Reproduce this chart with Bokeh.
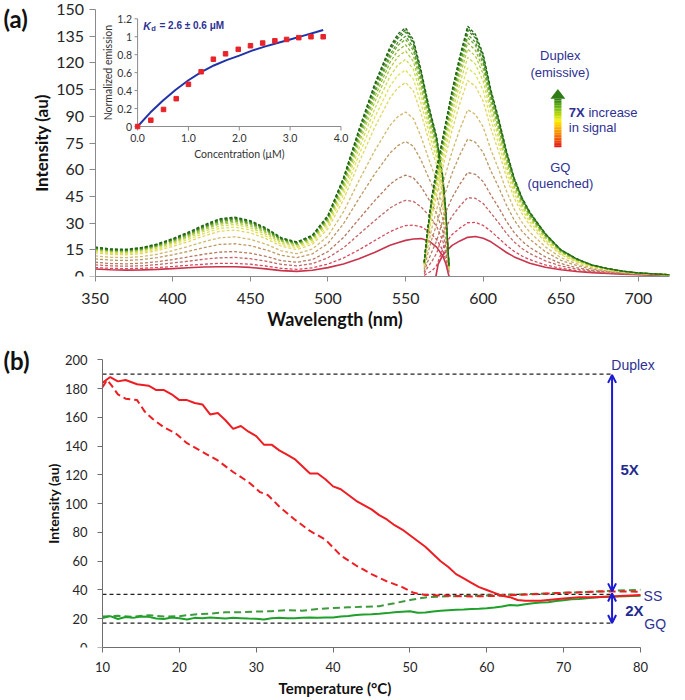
import math
from bokeh.plotting import figure
from bokeh.models import (Range1d, FixedTicker, Label, LabelSet, ColumnDataSource,
                          Arrow, OpenHead)
from bokeh.layouts import column
from bokeh.embed import file_html
from bokeh.resources import INLINE
from bokeh.core.properties import value

# ------------------------------------------------------------------
# Panel (a): excitation spectra (350-578 nm) and emission spectra
# ------------------------------------------------------------------
EX_WL = [350, 360, 370, 380, 390, 400, 410, 420, 430, 440, 450, 460, 470, 480, 490,
         500, 510, 520, 530, 540, 545, 550, 555, 560, 565, 570, 574, 576, 578]
ex_solid = [4.2, 3.8, 3.6, 3.7, 4.0, 4.4, 4.9, 5.3, 5.5, 5.5, 5.1, 4.3, 3.3, 2.9, 3.5,
            5.0, 7.0, 10.0, 13.5, 17.5, 19.0, 20.3, 21.1, 21.3, 20.0, 16.5, 11.5, 7.0, 0.0]
ex_d01 = [5.0, 4.6, 4.4, 4.6, 5.0, 5.6, 6.3, 6.9, 7.4, 7.4, 6.9, 5.9, 4.6, 4.0, 4.9, 7.0, 10.4, 15.0, 20.1, 25.2, 27.1, 28.6, 28.9, 27.9, 25.3, 20.8, 14.6, 9.0, 0.4]
ex_d02 = [6.5, 6.0, 5.8, 6.0, 6.7, 7.6, 8.6, 9.7, 10.5, 10.7, 10.0, 8.6, 6.8, 6.0, 7.2, 10.5, 16.1, 23.7, 31.3, 38.5, 41.0, 42.8, 42.2, 39.1, 34.3, 28.2, 20.0, 12.5, 1.1]
ex_d03 = [8.0, 7.3, 7.1, 7.5, 8.3, 9.5, 11.0, 12.5, 13.7, 14.0, 13.1, 11.3, 8.9, 8.0, 9.5, 14.0, 21.9, 32.3, 42.5, 51.8, 55.0, 56.9, 55.5, 50.4, 43.3, 35.6, 25.3, 16.0, 1.9]
ex_d04 = [9.9, 9.2, 9.0, 9.5, 10.6, 12.2, 14.1, 16.2, 18.0, 18.4, 17.3, 15.0, 11.9, 10.6, 12.7, 18.6, 29.6, 43.8, 57.4, 69.4, 73.5, 75.9, 73.2, 65.3, 55.3, 45.4, 32.4, 20.6, 2.8]
ex_d05 = [11.6, 10.8, 10.6, 11.2, 12.5, 14.5, 16.9, 19.5, 21.7, 22.3, 20.9, 18.2, 14.4, 12.8, 15.4, 22.7, 36.3, 53.9, 70.5, 84.9, 89.8, 92.4, 88.8, 78.5, 65.8, 54.0, 38.7, 24.7, 3.7]
ex_d06 = [13.3, 12.4, 12.2, 12.9, 14.5, 16.9, 19.6, 22.7, 25.4, 26.1, 24.5, 21.3, 17.0, 15.1, 18.1, 26.8, 43.0, 64.0, 83.6, 100.4, 106.0, 109.0, 104.3, 91.6, 76.3, 62.6, 44.9, 28.8, 4.5]
ex_d07 = [14.0, 13.0, 12.8, 13.7, 15.3, 17.9, 20.8, 24.1, 27.0, 27.8, 26.1, 22.7, 18.0, 16.1, 19.3, 28.5, 45.9, 68.3, 89.2, 107.0, 113.0, 116.0, 110.9, 97.2, 80.8, 66.3, 47.5, 30.5, 4.9]
ex_d08 = [14.6, 13.6, 13.4, 14.3, 16.0, 18.7, 21.8, 25.3, 28.3, 29.2, 27.4, 23.8, 19.0, 16.9, 20.3, 29.9, 48.3, 71.9, 93.9, 112.5, 118.8, 122.0, 116.5, 101.9, 84.5, 69.4, 49.8, 31.9, 5.2]
ex_d09 = [15.1, 14.1, 13.9, 14.8, 16.6, 19.3, 22.5, 26.2, 29.4, 30.3, 28.4, 24.7, 19.7, 17.6, 21.1, 31.1, 50.2, 74.8, 97.7, 117.0, 123.4, 126.7, 120.9, 105.6, 87.5, 71.9, 51.6, 33.1, 5.4]
ex_d10 = [15.5, 14.4, 14.2, 15.1, 17.0, 19.8, 23.1, 26.9, 30.1, 31.1, 29.2, 25.4, 20.2, 18.1, 21.6, 32.0, 51.6, 77.0, 100.5, 120.3, 126.9, 130.2, 124.2, 108.4, 89.8, 73.7, 52.9, 34.0, 5.6]
ex_d11 = [15.8, 14.7, 14.5, 15.4, 17.4, 20.3, 23.6, 27.5, 30.8, 31.8, 29.8, 26.0, 20.7, 18.5, 22.1, 32.7, 52.8, 78.8, 102.8, 123.0, 129.8, 133.2, 127.0, 110.8, 91.6, 75.2, 54.0, 34.7, 5.7]
ex_d12 = [15.9, 14.9, 14.7, 15.6, 17.6, 20.5, 23.9, 27.8, 31.2, 32.2, 30.2, 26.3, 21.0, 18.7, 22.4, 33.1, 53.6, 79.8, 104.2, 124.7, 131.5, 135.0, 128.7, 112.2, 92.8, 76.2, 54.7, 35.1, 5.8]
ex_d13 = [16.2, 15.1, 14.9, 15.9, 17.9, 20.8, 24.3, 28.3, 31.7, 32.7, 30.7, 26.8, 21.3, 19.0, 22.8, 33.7, 54.5, 81.3, 106.1, 126.9, 133.8, 137.3, 130.9, 114.1, 94.3, 77.4, 55.6, 35.7, 5.9]
ex_d14 = [16.3, 15.2, 15.0, 16.0, 18.0, 21.0, 24.5, 28.5, 32.0, 33.0, 31.0, 27.0, 21.5, 19.2, 23.0, 34.0, 55.0, 82.0, 107.0, 128.0, 135.0, 138.5, 132.0, 115.0, 95.0, 78.0, 56.0, 36.0, 6.0]
ex_d15 = [16.6, 15.5, 15.3, 16.3, 18.3, 21.3, 24.9, 28.9, 32.4, 33.4, 31.4, 27.3, 21.8, 19.4, 23.3, 34.4, 55.5, 82.7, 108.0, 129.1, 136.2, 139.7, 133.1, 116.0, 95.8, 78.6, 56.4, 36.3, 6.0]

EM_WL = [562, 564, 567, 570, 575, 580, 585, 590, 595, 600, 605, 610, 615, 620, 625,
         630, 640, 650, 660, 670, 680, 690, 700, 710, 720]
em_solid_wl = [569.5, 571, 574, 577, 580, 585, 590, 595, 600, 605, 610, 615, 620, 630,
               640, 650, 660, 670, 680, 690, 700, 710, 720]
em_solid = [0.0, 7.0, 12.0, 15.0, 17.5, 20.0, 22.0, 22.5, 21.5, 19.5, 16.5, 13.5, 11.0, 7.5,
            5.2, 3.8, 2.8, 2.2, 1.7, 1.3, 1.0, 0.8, 0.6]
em_d01 = [0.6, 1.8, 3.2, 6.1, 17.8, 23.6, 27.2, 30.2, 30.4, 28.7, 25.4, 21.5, 17.5, 14.1, 11.5, 9.5, 6.5, 4.6, 3.3, 2.5, 1.9, 1.4, 1.1, 0.9, 0.6]
em_d02 = [1.5, 4.8, 8.6, 13.0, 26.1, 33.9, 39.6, 44.3, 43.9, 41.0, 35.6, 30.1, 24.2, 19.4, 15.7, 12.9, 8.8, 5.9, 4.2, 3.0, 2.2, 1.6, 1.2, 0.9, 0.7]
em_d03 = [2.5, 7.8, 14.0, 20.0, 34.4, 44.3, 51.9, 58.4, 57.4, 53.3, 45.7, 38.7, 31.0, 24.6, 19.9, 16.3, 11.0, 7.3, 5.0, 3.5, 2.6, 1.8, 1.3, 1.0, 0.7]
em_d04 = [3.8, 11.8, 21.2, 29.3, 45.4, 58.2, 68.4, 77.2, 75.4, 69.7, 59.2, 50.1, 40.1, 31.7, 25.5, 20.9, 14.0, 9.1, 6.2, 4.2, 3.0, 2.1, 1.5, 1.1, 0.8]
em_d05 = [4.9, 15.3, 27.5, 37.4, 55.1, 70.3, 82.8, 93.7, 91.1, 84.0, 71.1, 60.1, 48.0, 37.8, 30.4, 24.9, 16.7, 10.6, 7.2, 4.8, 3.4, 2.3, 1.6, 1.2, 0.8]
em_d06 = [6.0, 18.8, 33.8, 45.5, 64.8, 82.4, 97.3, 110.1, 106.9, 98.4, 82.9, 70.1, 55.9, 44.0, 35.3, 28.9, 19.3, 12.2, 8.2, 5.4, 3.8, 2.6, 1.8, 1.3, 0.9]
em_d07 = [6.5, 20.3, 36.5, 49.0, 68.9, 87.6, 103.4, 117.2, 113.6, 104.5, 88.0, 74.4, 59.3, 46.6, 37.4, 30.6, 20.4, 12.9, 8.6, 5.7, 4.0, 2.7, 1.8, 1.4, 0.9]
em_d08 = [6.9, 21.5, 38.7, 51.9, 72.3, 91.9, 108.6, 123.1, 119.3, 109.7, 92.2, 78.0, 62.1, 48.8, 39.1, 32.0, 21.4, 13.4, 9.0, 5.9, 4.1, 2.8, 1.9, 1.4, 0.9]
em_d09 = [7.2, 22.5, 40.5, 54.2, 75.1, 95.4, 112.7, 127.8, 123.8, 113.8, 95.6, 80.9, 64.4, 50.6, 40.5, 33.2, 22.1, 13.9, 9.3, 6.1, 4.2, 2.8, 1.9, 1.4, 1.0]
em_d10 = [7.4, 23.3, 41.9, 55.9, 77.2, 98.0, 115.8, 131.3, 127.1, 116.8, 98.1, 83.0, 66.1, 51.9, 41.6, 34.0, 22.7, 14.2, 9.5, 6.2, 4.3, 2.9, 1.9, 1.5, 1.0]
em_d11 = [7.6, 23.9, 43.0, 57.4, 78.9, 100.1, 118.4, 134.2, 129.9, 119.4, 100.2, 84.8, 67.5, 53.0, 42.4, 34.7, 23.2, 14.5, 9.7, 6.3, 4.4, 2.9, 2.0, 1.5, 1.0]
em_d12 = [7.8, 24.3, 43.7, 58.3, 79.9, 101.4, 119.9, 136.0, 131.6, 120.9, 101.5, 85.9, 68.3, 53.7, 43.0, 35.2, 23.4, 14.7, 9.8, 6.4, 4.4, 3.0, 2.0, 1.5, 1.0]
em_d13 = [7.9, 24.8, 44.6, 59.4, 81.3, 103.1, 122.0, 138.3, 133.9, 123.0, 103.2, 87.3, 69.4, 54.6, 43.7, 35.7, 23.8, 14.9, 9.9, 6.5, 4.5, 3.0, 2.0, 1.5, 1.0]
em_d14 = [8.0, 25.0, 45.0, 60.0, 82.0, 104.0, 123.0, 139.5, 135.0, 124.0, 104.0, 88.0, 70.0, 55.0, 44.0, 36.0, 24.0, 15.0, 10.0, 6.5, 4.5, 3.0, 2.0, 1.5, 1.0]
em_d15 = [8.1, 25.3, 45.5, 60.6, 82.7, 104.9, 124.0, 140.6, 136.1, 125.0, 104.8, 88.7, 70.6, 55.4, 44.4, 36.3, 24.2, 15.1, 10.1, 6.5, 4.5, 3.0, 2.0, 1.5, 1.0]

WL_TICKS = [350, 400, 450, 500, 550, 600, 650, 700]
INT_TICKS_A = [0, 15, 30, 45, 60, 75, 90, 105, 120, 135, 150]

# inset (binding curve)
conc = [0.0, 0.26, 0.51, 0.76, 1.0, 1.25, 1.49, 1.73, 1.98, 2.22, 2.46, 2.70, 2.93, 3.17, 3.41, 3.65]
norm_emission = [0.0, 0.07, 0.19, 0.31, 0.47, 0.61, 0.75, 0.81, 0.86, 0.90, 0.93, 0.955, 0.97, 0.99, 1.0, 1.0]
fit_conc = [0.0, 0.25, 0.5, 0.75, 1.0, 1.25, 1.5, 1.75, 2.0, 2.25, 2.5, 2.75, 3.0, 3.25, 3.5, 3.65]
fit_norm = [0.0, 0.155, 0.29, 0.41, 0.515, 0.605, 0.68, 0.74, 0.79, 0.845, 0.89, 0.93, 0.97, 1.01, 1.05, 1.075]
INSET_XTICKS = [0, 1, 2, 3, 4]
INSET_XTICK_LABELS = ["0.0", "1.0", "2.0", "3.0", "4.0"]
INSET_YTICKS = [0, 0.2, 0.4, 0.6, 0.8, 1.0, 1.2]
INSET_YTICK_LABELS = ["0", "0.2", "0.4", "0.6", "0.8", "1", "1.2"]

# ------------------------------------------------------------------
# Panel (b): melting curves
# ------------------------------------------------------------------
red_solid_T = [10, 11, 12, 13, 14.5, 16, 17, 18, 19, 20, 21, 22, 23, 24, 25, 26, 27, 28, 29, 30,
               31, 32, 33, 34, 35, 36, 37, 38, 39, 40, 41, 42, 43, 44, 45, 46, 47, 48, 49, 50,
               51, 52, 53, 54, 55, 56, 57, 58, 59, 60, 61, 62, 63, 64, 65, 66, 67, 68, 70, 72,
               74, 76, 78, 80]
red_solid_I = [184, 188, 185, 186, 183, 182, 179, 179, 176, 172, 172, 170, 169, 162, 163, 158, 152, 154, 150, 147,
               141, 141, 137, 134, 131, 126, 121, 121, 117, 112, 110, 106, 102, 99, 96, 92, 89, 85, 82, 78,
               74, 70, 65, 60, 56, 51, 48, 45, 42, 40, 38, 36, 35, 33, 32.5, 32.5, 32.5, 33, 34, 35,
               35, 35.5, 36, 36.5]
red_dash_T = [10, 10.6, 11.2, 12, 13, 14.5, 15.5, 16.5, 18, 19.5, 21, 23, 25, 27, 29, 30.5, 31.5, 33,
              35, 37, 39, 41, 43, 45, 47, 49, 50.5, 52, 55, 58, 62, 66, 70, 75, 80]
red_dash_I = [181, 186, 182, 176, 173, 172, 164, 159, 153, 149, 142, 136, 130, 122, 115, 108, 106, 98,
              89, 81, 75, 64, 57, 51, 46, 42, 38, 36.5, 36, 35.5, 36, 37, 38, 39, 38.8]
green_solid_T = [10, 11, 12, 13, 14, 15, 16, 17, 18, 19, 20, 21, 22, 23, 24, 25, 26, 27, 28, 29,
                 30, 31, 32, 33, 34, 35, 36, 37, 38, 39, 40, 41, 42, 43, 44, 45, 46, 47, 48, 49,
                 50, 51, 52, 53, 54, 55, 56, 57, 58, 59, 60, 61, 62, 63, 64, 65, 66, 67, 68, 69,
                 70, 71, 72, 73, 74, 75, 76, 77, 78, 79, 80]
green_solid_I = [20.5, 21.8, 19.8, 21.2, 20.6, 21.5, 21.3, 20.1, 19.8, 20.9, 20.3, 19.4, 20.6, 20.3, 20.8,
                 20.5, 20.1, 20.6, 20.4, 20.1, 20.0, 19.5, 20.4, 20.6, 20.4, 20.3, 20.6, 20.8, 20.7, 20.9,
                 20.8, 21.6, 21.9, 22.6, 23.0, 23.2, 23.5, 23.9, 24.5, 24.9, 25.2, 24.2, 24.3, 25.0, 25.5,
                 25.9, 26.2, 26.4, 26.7, 26.9, 27.3, 27.8, 28.5, 29.5, 29.2, 30.0, 30.8, 31.3, 31.5, 32.3,
                 32.9, 33.5, 33.8, 34.2, 34.8, 35.1, 35.3, 35.4, 35.6, 35.8, 35.9]
green_dash_T = [10, 12, 14, 16, 18, 20, 22, 24, 26, 28, 30, 32, 34, 36, 38, 40, 42, 44, 46, 48,
                50, 52, 54, 56, 58, 60, 62, 64, 66, 68, 70, 72, 74, 76, 78, 80]
green_dash_I = [21.5, 22.0, 21.3, 22.5, 21.5, 21.8, 23.0, 23.5, 24.5, 24.5, 25.0, 25.2, 26.0, 25.6, 26.8,
                27.4, 27.9, 28.3, 28.7, 30.8, 33.0, 34.8, 35.4, 35.7, 35.9, 36.2, 36.5, 36.9, 37.2, 37.6,
                38.0, 38.4, 38.9, 39.4, 39.8, 40.1]
ref_levels = [190, 37, 17]          # Duplex, SS, GQ reference intensities
ref_end_T = 76.3
T_TICKS = [10, 20, 30, 40, 50, 60, 70, 80]
INT_TICKS_B = [0, 20, 40, 60, 80, 100, 120, 140, 160, 180, 200]

# ------------------------------------------------------------------
FONT = "Lato"
ANN = "Liberation Sans"
NAVY = "#2E3192"
DASH_COLORS = ["#D6485A", "#C46464", "#B67A5E", "#BE9862", "#D2B96A", "#E2D663", "#E2E257",
               "#CCDB4A", "#AECB40", "#8FBB38", "#70A930", "#549829", "#3E8722", "#2D761B", "#216615"]


def style(p, axis_color, tick_size, title_size):
    p.grid.visible = False
    p.outline_line_color = None
    p.background_fill_color = "white"
    p.border_fill_color = "white"
    for ax in (p.xaxis[0], p.yaxis[0]):
        ax.axis_line_color = axis_color
        ax.major_tick_line_color = axis_color
        ax.minor_tick_line_color = None
        ax.major_tick_in = 0
        ax.major_label_text_font = FONT
        ax.major_label_text_font_size = tick_size
        ax.major_label_text_color = "#262626"
        ax.axis_label_text_font = FONT
        ax.axis_label_text_font_style = "bold"
        ax.axis_label_text_font_size = title_size
        ax.axis_label_text_color = "#111111"


# ---------------- panel (a) ----------------
# frame spans from the canvas' left/top edge; the y axis is pinned at 350 nm
A_PXNM, A_PXI = 1.56, 1.78
a_x0 = 350 - 95 / A_PXNM
a_y1 = 276 / A_PXI
pa = figure(width=685, height=336, x_range=Range1d(a_x0, 720), y_range=Range1d(0, a_y1),
            output_backend="svg", toolbar_location=None,
            min_border_left=0, min_border_right=13, min_border_top=0, min_border_bottom=60)
style(pa, "#8a8a8a", "16px", "17px")
pa.xaxis.ticker = FixedTicker(ticks=WL_TICKS)
pa.yaxis.ticker = FixedTicker(ticks=INT_TICKS_A)
pa.xaxis.bounds = (350, 720)
pa.yaxis.bounds = (0, 150)
pa.yaxis.fixed_location = 350
pa.xaxis.axis_label = "Wavelength (nm)"
pa.yaxis.axis_label = "Intensity (au)"
pa.xaxis.axis_label_text_font_size = "18px"
pa.xaxis.major_tick_out = 5
pa.xaxis.major_label_standoff = 11
pa.xaxis.axis_label_standoff = 1
pa.yaxis.major_tick_out = 6
pa.yaxis.major_label_standoff = 5
pa.yaxis.axis_label_standoff = 2

pa.line(EX_WL, ex_solid, line_color="#C8344C", line_width=1.6)
pa.line(em_solid_wl, em_solid, line_color="#C8344C", line_width=1.6)
EX_DASHED = [ex_d01, ex_d02, ex_d03, ex_d04, ex_d05, ex_d06, ex_d07, ex_d08, ex_d09, ex_d10,
             ex_d11, ex_d12, ex_d13, ex_d14, ex_d15]
EM_DASHED = [em_d01, em_d02, em_d03, em_d04, em_d05, em_d06, em_d07, em_d08, em_d09, em_d10,
             em_d11, em_d12, em_d13, em_d14, em_d15]
for ys, c in zip(EX_DASHED, DASH_COLORS):
    pa.line(EX_WL, ys, line_color=c, line_width=1.3, line_dash="3 2")
for ys, c in zip(EM_DASHED, DASH_COLORS):
    pa.line(EM_WL, ys, line_color=c, line_width=1.3, line_dash="3 2")

# gradient arrow (red -> yellow -> green)
stops = [(0.0, (226, 20, 24)), (0.3, (250, 140, 0)), (0.55, (250, 240, 0)),
         (0.8, (120, 190, 20)), (1.0, (45, 125, 20))]


def grad(t):
    for (t0, c0), (t1, c1) in zip(stops[:-1], stops[1:]):
        if t <= t1:
            u = (t - t0) / (t1 - t0)
            return "#%02x%02x%02x" % tuple(int(round(a + (b - a) * u)) for a, b in zip(c0, c1))
    return "#%02x%02x%02x" % stops[-1][1]


ax_c, shaft_hw, head_hw = 648.1, 2.3, 4.8
y_bot, y_top, y_tip = 72.6, 99.8, 105.4
nslice = 30
qb = [y_bot + (y_top - y_bot) * i / nslice for i in range(nslice)]
qt = [y_bot + (y_top - y_bot) * (i + 1) / nslice + 0.05 for i in range(nslice)]
qc = [grad((i + 0.5) / nslice) for i in range(nslice)]
pa.quad(left=ax_c - shaft_hw, right=ax_c + shaft_hw, bottom=qb, top=qt, fill_color=qc, line_color=None)
pa.patch([ax_c - head_hw, ax_c + head_hw, ax_c], [y_top, y_top, y_tip], fill_color="#2E7D14", line_color=None)

for txt, x, y, al, bold in [("Duplex", 649.7, 124.2, "center", False),
                            ("(emissive)", 649.5, 114.8, "center", False),
                            ("GQ", 649.7, 61.4, "center", False),
                            ("(quenched)", 649.7, 52.4, "center", False),
                            ("7X", 655.1, 92.3, "left", True),
                            ("increase", 667.8, 92.3, "left", False),
                            ("in signal", 655.1, 83.9, "left", False)]:
    pa.add_layout(Label(x=x, y=y, text=txt, text_font=ANN, text_font_size="13px",
                        text_color=NAVY, text_align=al, text_baseline="middle",
                        text_font_style="bold" if bold else "normal"))
pa.add_layout(Label(x=291.0, y=145.2, text="(a)", text_font=FONT, text_font_size="24px",
                    text_font_style="bold", text_color="#111111", text_align="left",
                    text_baseline="middle"))

# inset, drawn with its own ranges
pa.extra_x_ranges = {"ix": Range1d(-2.696, 10.461)}
pa.extra_y_ranges = {"iy": Range1d(-1.6713, 1.4039)}
IAX = "#8c8c8c"
pa.segment(x0=[0, 0], y0=[0, 0], x1=[INSET_XTICKS[-1], 0], y1=[0, INSET_YTICKS[-1]],
           line_color=IAX, line_width=1, x_range_name="ix", y_range_name="iy")
pa.segment(x0=INSET_XTICKS, y0=[0] * len(INSET_XTICKS), x1=INSET_XTICKS,
           y1=[-0.045] * len(INSET_XTICKS), line_color=IAX, line_width=1,
           x_range_name="ix", y_range_name="iy")
pa.segment(x0=[0] * len(INSET_YTICKS), y0=INSET_YTICKS, x1=[-0.06] * len(INSET_YTICKS),
           y1=INSET_YTICKS, line_color=IAX, line_width=1, x_range_name="ix", y_range_name="iy")
pa.line(fit_conc, fit_norm, line_color="#2233AA", line_width=2, x_range_name="ix", y_range_name="iy")
pa.scatter(conc, norm_emission, marker="square", size=4.5, color="#E8232A",
           x_range_name="ix", y_range_name="iy")
xs_src = ColumnDataSource(dict(x=INSET_XTICKS, y=[-0.125] * len(INSET_XTICKS), t=INSET_XTICK_LABELS))
pa.add_layout(LabelSet(x="x", y="y", text="t", source=xs_src, text_font=value(FONT),
                       text_font_size="10.5px", text_color="#333333", text_align="center",
                       text_baseline="middle", x_range_name="ix", y_range_name="iy"))
ys_src = ColumnDataSource(dict(x=[-0.11] * len(INSET_YTICKS), y=INSET_YTICKS, t=INSET_YTICK_LABELS))
pa.add_layout(LabelSet(x="x", y="y", text="t", source=ys_src, text_font=value(FONT),
                       text_font_size="10.5px", text_color="#333333", text_align="right",
                       text_baseline="middle", x_range_name="ix", y_range_name="iy"))
pa.add_layout(Label(x=2.0, y=-0.31, text="Concentration (\u03bcM)", text_font=FONT,
                    text_font_size="10.5px", text_color="#333333", text_align="center",
                    text_baseline="middle", x_range_name="ix", y_range_name="iy"))
pa.add_layout(Label(x=-0.58, y=0.6, text="Normalized emission", text_font=FONT,
                    text_font_size="10.5px", text_color="#333333", text_align="center",
                    text_baseline="middle", angle=math.pi / 2, x_range_name="ix", y_range_name="iy"))
pa.add_layout(Label(x=0.11, y=1.125, text="K", text_font=ANN, text_font_size="10.5px",
                    text_font_style="bold italic", text_color=NAVY, text_align="left",
                    text_baseline="middle", x_range_name="ix", y_range_name="iy"))
pa.add_layout(Label(x=0.27, y=1.09, text="d", text_font=ANN, text_font_size="7.5px",
                    text_font_style="bold", text_color=NAVY, text_align="left",
                    text_baseline="middle", x_range_name="ix", y_range_name="iy"))
pa.add_layout(Label(x=0.43, y=1.125, text="= 2.6 \u00b1 0.6 \u03bcM", text_font=ANN, text_font_size="10px",
                    text_font_style="bold", text_color=NAVY, text_align="left",
                    text_baseline="middle", x_range_name="ix", y_range_name="iy"))

# ---------------- panel (b) ----------------
B_PXT, B_PXI = 7.6857, 1.4385
B_RIGHT = 16
b_x0 = 10 - 102 / B_PXT
b_x1 = 80 + (685 - B_RIGHT - 640) / B_PXT
b_y1 = 311 / B_PXI
pb = figure(width=685, height=364, x_range=Range1d(b_x0, b_x1), y_range=Range1d(0, b_y1),
            output_backend="svg", toolbar_location=None,
            min_border_left=0, min_border_right=B_RIGHT, min_border_top=0, min_border_bottom=53)
style(pb, "#6e6e6e", "13px", "14px")
pb.xaxis.ticker = FixedTicker(ticks=T_TICKS)
pb.yaxis.ticker = FixedTicker(ticks=INT_TICKS_B)
pb.xaxis.bounds = (10, 80)
pb.yaxis.bounds = (0, 200)
pb.yaxis.fixed_location = 10
pb.xaxis.axis_label = "Temperature (\u00b0C)"
pb.yaxis.axis_label = "Intensity (au)"
pb.xaxis.axis_label_text_font_size = "15px"
pb.xaxis.major_tick_out = 5
pb.xaxis.major_label_standoff = 9
pb.xaxis.axis_label_standoff = 4
pb.yaxis.major_tick_out = 5
pb.yaxis.major_label_standoff = 10
pb.yaxis.axis_label_standoff = 0

pb.segment(x0=[10] * len(ref_levels), y0=ref_levels, x1=[ref_end_T] * len(ref_levels), y1=ref_levels,
           line_color="#222222", line_width=1.3, line_dash="4 3")
pb.line(green_dash_T, green_dash_I, line_color="#3D9A3D", line_width=2, line_dash="7 4")
pb.line(green_solid_T, green_solid_I, line_color="#1FA02B", line_width=2)
pb.line(red_dash_T, red_dash_I, line_color="#EE1D23", line_width=2, line_dash="7 4")
pb.line(red_solid_T, red_solid_I, line_color="#EE1D23", line_width=2)

BLUE = "#1B1BD1"
pb.add_layout(Arrow(x_start=ref_end_T, y_start=ref_levels[0] - 0.5, x_end=ref_end_T, y_end=ref_levels[1] + 2,
                    line_color=BLUE, line_width=2,
                    start=OpenHead(size=8, line_color=BLUE, line_width=2),
                    end=OpenHead(size=8, line_color=BLUE, line_width=2)))
pb.add_layout(Arrow(x_start=ref_end_T, y_start=ref_levels[1] + 0.5, x_end=ref_end_T, y_end=ref_levels[2],
                    line_color=BLUE, line_width=2,
                    start=OpenHead(size=8, line_color=BLUE, line_width=2),
                    end=OpenHead(size=8, line_color=BLUE, line_width=2)))
for txt, x, y, bold, size in [("Duplex", 76.2, 196.7, False, "14px"),
                              ("5X", 77.4, 124, True, "15px"),
                              ("SS", 80.4, 35.5, False, "14px"),
                              ("2X", 78.0, 25.5, True, "15px"),
                              ("GQ", 80.5, 16.2, False, "14px")]:
    pb.add_layout(Label(x=x, y=y, text=txt, text_font=ANN, text_font_size=size,
                        text_color="#1F2B8F" if bold else NAVY, text_align="left",
                        text_baseline="middle", text_font_style="bold" if bold else "normal"))
pb.add_layout(Label(x=-2.88, y=199.3, text="(b)", text_font=FONT, text_font_size="24px",
                    text_font_style="bold", text_color="#111111", text_align="left",
                    text_baseline="middle"))

layout = column(pa, pb)
open("out.html", "w").write(file_html(layout, INLINE))
